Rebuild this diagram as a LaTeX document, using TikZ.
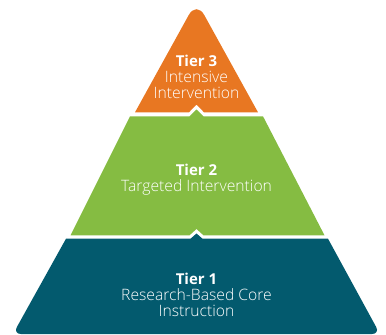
\documentclass[tikz,border=0pt]{standalone}
\usepackage{fontspec}
\setmainfont{Open Sans}[UprightFont={* Light}, BoldFont={* Bold}]
\usetikzlibrary{positioning}
\definecolor{tierorange}{RGB}{232,119,34}
\definecolor{tiergreen}{RGB}{133,188,66}
\definecolor{tierteal}{RGB}{3,90,110}
\newcommand{\tiername}[1]{{\fontsize{15}{16}\selectfont\bfseries #1}}

\begin{document}
\begin{tikzpicture}[
        x=1pt, y=-1pt,
        tier/.style={draw=none},
        label/.style={text=white, align=center, anchor=base, inner sep=0pt,
            font=\fontsize{15.7}{16}\selectfont}
    ]
        \useasboundingbox (0,0) rectangle (386,335);

        % Tier 3 (top)
        \fill[tier, tierorange] (135,112.3) [rounded corners=16pt] -- (196.5,1) [sharp corners]
            -- (258,112.3) -- (204,112.3) -- (196.5,104.5) -- (189,112.3) -- cycle;
        % Tier 2
        \fill[tier, tiergreen] (130,116.3) -- (189.5,116.3) -- (196.5,109.5) -- (203.5,116.3)
            -- (263,116.3) -- (324.5,235.3) -- (203.5,235.3) -- (196.5,229) -- (189.5,235.3)
            -- (70.5,235.3) -- cycle;
        % Tier 1 (base)
        \fill[tier, tierteal] (66,238.7) -- (190.5,238.7) -- (196.5,233.5) -- (202.5,238.7)
            -- (328,238.7) [rounded corners=8pt] -- (380,334) -- (13,334) [sharp corners] -- cycle;

        % anchor = baseline of the last line
        \node[label] (tier3) at (196.5,98) {\tiername{Tier 3}\\Intensive\\Intervention};
        \node[label] (tier2) at (196.5,191) {\tiername{Tier 2}\\Targeted Intervention};
        \node[label] (tier1) at (196.5,316) {\tiername{Tier 1}\\Research-Based Core\\Instruction};
    \end{tikzpicture}
\end{document}
